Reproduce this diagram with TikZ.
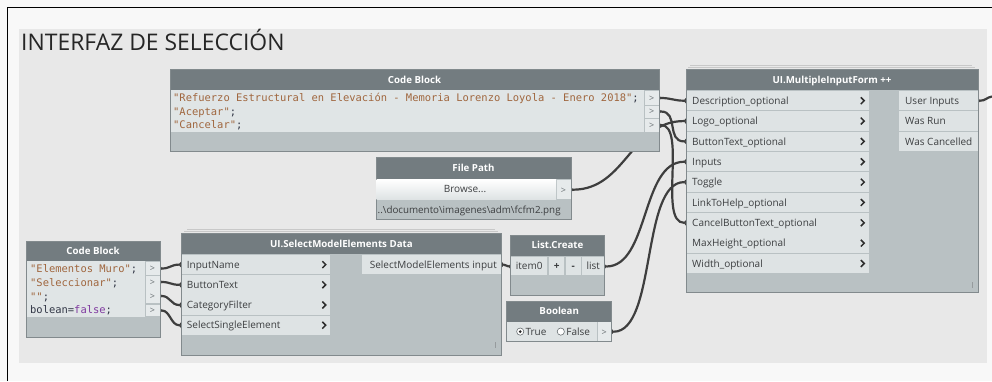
\documentclass[tikz,border=0pt]{standalone}
\usepackage{fontspec}
\setmainfont{Open Sans}
\newfontfamily\codefont{DejaVu Sans Mono}
\usetikzlibrary{arrows.meta}
\pgfdeclarelayer{bg}
\pgfdeclarelayer{wires}
\pgfsetlayers{bg,wires,main}

\definecolor{pagebg}{RGB}{248,248,248}
\definecolor{panelbg}{RGB}{232,232,232}
\definecolor{hdr}{RGB}{115,124,128}
\definecolor{nodebg}{RGB}{185,193,195}
\definecolor{rowbg}{RGB}{222,227,228}
\definecolor{codebg}{RGB}{224,229,230}
\definecolor{portbg}{RGB}{230,234,235}
\definecolor{nodeedge}{RGB}{130,138,141}
\definecolor{stackc}{RGB}{200,200,200}
\definecolor{wirec}{RGB}{62,62,62}
\definecolor{strc}{RGB}{160,102,62}
\definecolor{kwc}{RGB}{128,58,160}
\definecolor{codetxt}{RGB}{50,55,70}
\definecolor{lbltxt}{RGB}{60,62,64}
\definecolor{porttxt}{RGB}{105,112,115}
\definecolor{chevc}{RGB}{45,45,45}

\tikzset{
  hdrtext/.style={text=white,font=\bfseries\fontsize{9.7}{11}\selectfont,inner sep=0pt,text height=6.9pt,text depth=0pt},
  lbl/.style={text=lbltxt,font=\fontsize{10}{12}\selectfont,inner sep=0pt,anchor=west,text height=7.2pt,text depth=0pt},
  clbl/.style={lbl,anchor=center},
  codeln/.style={font=\codefont\fontsize{10.45}{12}\selectfont,inner sep=0pt,anchor=west,text=strc,text height=7.7pt,text depth=0pt},
  portglyph/.style={text=porttxt,font=\fontsize{9}{10}\selectfont,inner sep=0pt,text height=6.5pt,text depth=0pt},
  chev/.style={draw=chevc,line width=1.5pt},
  wire/.style={draw=wirec,line width=2.2pt,arrows={Triangle[reversed,length=2.5pt,width=5.5pt]-Triangle[reversed,length=2.5pt,width=5.5pt]}},
  stackline/.style={draw=stackc,line width=0.8pt},
  tickmark/.style={draw=porttxt!70,line width=0.8pt},
}

% node frame: name, left, top, right, bottom, header bottom, title
\newcommand\dynnode[7]{%
  \fill[nodebg] (#2,#3) rectangle (#4,#5);
  \fill[hdr] (#2,#3) rectangle (#4,#6);
  \draw[nodeedge,line width=0.9pt] (#2,#3) rectangle (#4,#5);
  \node[hdrtext] (#1) at ({(#2+#4)/2},{(#3+#6)/2}) {#7};
}

\begin{document}
\begin{tikzpicture}[x=1pt,y=-1pt]
\useasboundingbox (0,0) rectangle (992,381);

\begin{pgfonlayer}{bg}
  \fill[pagebg] (0,0) rectangle (992,381);
  \fill[panelbg] (19,29) rectangle (987,363);
  \draw[black,line width=1.6pt] (7.3,381) -- (7.3,7.3) -- (992,7.3);
\end{pgfonlayer}

\node[anchor=base west,inner sep=0pt,text=black!85,font=\fontsize{22.9}{26}\selectfont] (title) at (21,50) {INTERFAZ DE SELECCIÓN};

% ---- Code Block (strings for the form)
\dynnode{cbA}{170}{69.5}{659}{151}{90}{Code Block}
\fill[codebg] (170.5,90) rectangle (644,131.7);
\foreach \yt/\yb/\yc [count=\i] in {91/104.5/98, 105.5/118/111.5, 119/131.5/125} {
  \fill[portbg] (645,\yt) rectangle (658.5,\yb);
  \node[portglyph] (cbAg\i) at (651.7,\yc) {>};
  \coordinate (cbAo\i) at (659,\yc);
}
\node[codeln] (cbAl1) at (173,98) {"Refuerzo Estructural en Elevación - Memoria Lorenzo Loyola - Enero 2018"\textcolor{codetxt}{;}};
\node[codeln] (cbAl2) at (173,111.5) {"Aceptar"\textcolor{codetxt}{;}};
\node[codeln] (cbAl3) at (173,125) {"Cancelar"\textcolor{codetxt}{;}};

% ---- UI.MultipleInputForm ++
\draw[stackline] (690,65.5) -- (972,65.5);
\draw[stackline] (688,67.6) -- (975,67.6);
\dynnode{mif}{686}{69.5}{978}{292.5}{90}{UI.MultipleInputForm ++}
\foreach \lab [count=\i from 0] in {Description\_optional,Logo\_optional,ButtonText\_optional,Inputs,Toggle,LinkToHelp\_optional,CancelButtonText\_optional,MaxHeight\_optional,Width\_optional} {
  \pgfmathsetmacro\yt{91+20.35*\i}
  \pgfmathsetmacro\yc{\yt+9.7}
  \fill[rowbg] (686.5,\yt) rectangle (869,{\yt+19.4});
  \node[lbl] (mifl\i) at (692,\yc) {\lab};
  \draw[chev] (860.8,{\yc-3.4}) -- (864.2,\yc) -- (860.8,{\yc+3.4});
  \coordinate (mifp\i) at (686,\yc);
}
\foreach \lab [count=\i from 0] in {User Inputs,Was Run,Was Cancelled} {
  \pgfmathsetmacro\yt{91+20.35*\i}
  \pgfmathsetmacro\yc{\yt+9.7}
  \fill[rowbg] (899,\yt) rectangle (977.5,{\yt+19.4});
  \node[lbl] (mifr\i) at (905,\yc) {\lab};
  \coordinate (mifo\i) at (978,\yc);
}
\draw[tickmark] (972.7,282) -- (972.7,287.5);
\coordinate (offR) at (992,96.5);

% ---- File Path
\dynnode{fp}{376}{157.5}{571}{219.5}{179.3}{File Path}
\shade[top color=white,bottom color=rowbg] (376.5,179.3) rectangle (556,199.3);
\fill[portbg] (556.8,179.5) rectangle (570.5,199.3);
\node[clbl] (fpb) at (465,189.3) {Browse...};
\node[portglyph] (fpg) at (563.5,190) {>};
\node[lbl,font=\fontsize{9.8}{12}\selectfont] (fppath) at (377.5,209.6) {..\textbackslash documento\textbackslash imagenes\textbackslash adm\textbackslash fcfm2.png};
\coordinate (fpo) at (571,189.7);

% ---- Code Block (selection prompts)
\dynnode{cbB}{26}{241}{160}{337.3}{261}{Code Block}
\fill[codebg] (26.5,261) rectangle (145,316.7);
\foreach \yt/\yb in {262/274.5, 276/303, 304.5/316} {
  \fill[portbg] (145.8,\yt) rectangle (159.5,\yb);
}
\foreach \yc [count=\i] in {268.5,282,296,310.5} {
  \node[portglyph] (cbBg\i) at (152.5,\yc) {>};
  \coordinate (cbBo\i) at (160,\yc);
}
\node[codeln] (cbBl1) at (30,269) {"Elementos Muro"\textcolor{codetxt}{;}};
\node[codeln] (cbBl2) at (30,282.6) {"Seleccionar"\textcolor{codetxt}{;}};
\node[codeln] (cbBl3) at (30,296.2) {""\textcolor{codetxt}{;}};
\node[codeln,text=codetxt] (cbBl4) at (30,309.8) {bolean=\textcolor{kwc}{false};};

% ---- UI.SelectModelElements Data
\draw[stackline] (187,229.6) -- (495,229.6);
\draw[stackline] (184,231.6) -- (498,231.6);
\dynnode{sme}{181}{233.5}{501.7}{355}{254}{UI.SelectModelElements Data}
\foreach \lab [count=\i from 0] in {InputName,ButtonText,CategoryFilter,SelectSingleElement} {
  \pgfmathsetmacro\yt{255+20.2*\i}
  \pgfmathsetmacro\yc{\yt+9.6}
  \fill[rowbg] (181.5,\yt) rectangle (330,{\yt+19.3});
  \node[lbl] (smel\i) at (186.7,\yc) {\lab};
  \draw[chev] (322.3,{\yc-3.4}) -- (325.7,\yc) -- (322.3,{\yc+3.4});
  \coordinate (smep\i) at (181,\yc);
}
\fill[rowbg] (362,255) rectangle (501.2,274.3);
\node[lbl,anchor=east] (smer) at (497,264.6) {SelectModelElements input};
\coordinate (smeo) at (501.7,264.6);
\draw[tickmark] (495.7,342) -- (495.7,347.5);

% ---- List.Create
\dynnode{lc}{510.7}{235}{604.3}{295}{255.7}{List.Create}
\fill[rowbg] (511.2,256.5) rectangle (547.3,275);
\fill[rowbg] (549,256.5) rectangle (564.3,275);
\fill[rowbg] (566,256.5) rectangle (580.7,275);
\fill[rowbg] (582.2,256.5) rectangle (603.8,275);
\node[clbl] (lci0) at (529.2,266) {item0};
\node[clbl,font=\bfseries\fontsize{10}{12}\selectfont] (lcplus) at (556.6,265.5) {+};
\node[clbl,font=\bfseries\fontsize{10}{12}\selectfont] (lcminus) at (573.3,265.5) {-};
\node[clbl] (lcl) at (593.2,266) {list};
\coordinate (lci) at (510.7,266.5);
\coordinate (lco) at (604.3,266.5);

% ---- Boolean
\dynnode{bl}{506.7}{301}{611.7}{341.5}{321.7}{Boolean}
\fill[rowbg] (507.2,322.2) rectangle (597,341);
\fill[portbg] (597.5,322.2) rectangle (611.2,341);
\filldraw[fill=white,draw=porttxt,line width=0.6pt] (520.2,331.6) circle (3.6);
\fill[black!85] (520.2,331.6) circle (1.5);
\node[lbl] (blt) at (525.3,331.6) {True};
\filldraw[fill=white,draw=porttxt,line width=0.6pt] (560.8,331.6) circle (3.6);
\node[lbl] (blf) at (566.2,331.6) {False};
\node[portglyph] (blg) at (604.3,332) {>};
\coordinate (blo) at (611.7,331.7);

% ---- connectors
\begin{pgfonlayer}{wires}
  \draw[wire] (cbAo1) .. controls +(12,0) and +(-12,0) .. (mifp0);
  \draw[wire] (cbAo2) .. controls +(20,0) and +(-20,0) .. (mifp2);
  \draw[wire] (cbAo3) .. controls +(28,0) and +(-28,0) .. (mifp6);
  \draw[wire] (fpo) .. controls +(55,0) and +(-55,0) .. (mifp1);
  \draw[wire] (lco) .. controls +(45,0) and +(-45,0) .. (mifp3);
  \draw[wire] (blo) .. controls +(45,0) and +(-45,0) .. (mifp4);
  \draw[wire] (cbBo1) .. controls +(10,0) and +(-10,0) .. (smep0);
  \draw[wire] (cbBo2) .. controls +(10,0) and +(-10,0) .. (smep1);
  \draw[wire] (cbBo3) .. controls +(10,0) and +(-10,0) .. (smep2);
  \draw[wire] (cbBo4) .. controls +(10,0) and +(-10,0) .. (smep3);
  \draw[wire] (smeo) .. controls +(5,0) and +(-5,0) .. (lci);
  \draw[wire,arrows={Triangle[reversed,length=2.5pt,width=5.5pt]-}] (mifo0) .. controls +(8,0) and +(-6,1) .. (offR);
\end{pgfonlayer}
\end{tikzpicture}
\end{document}
